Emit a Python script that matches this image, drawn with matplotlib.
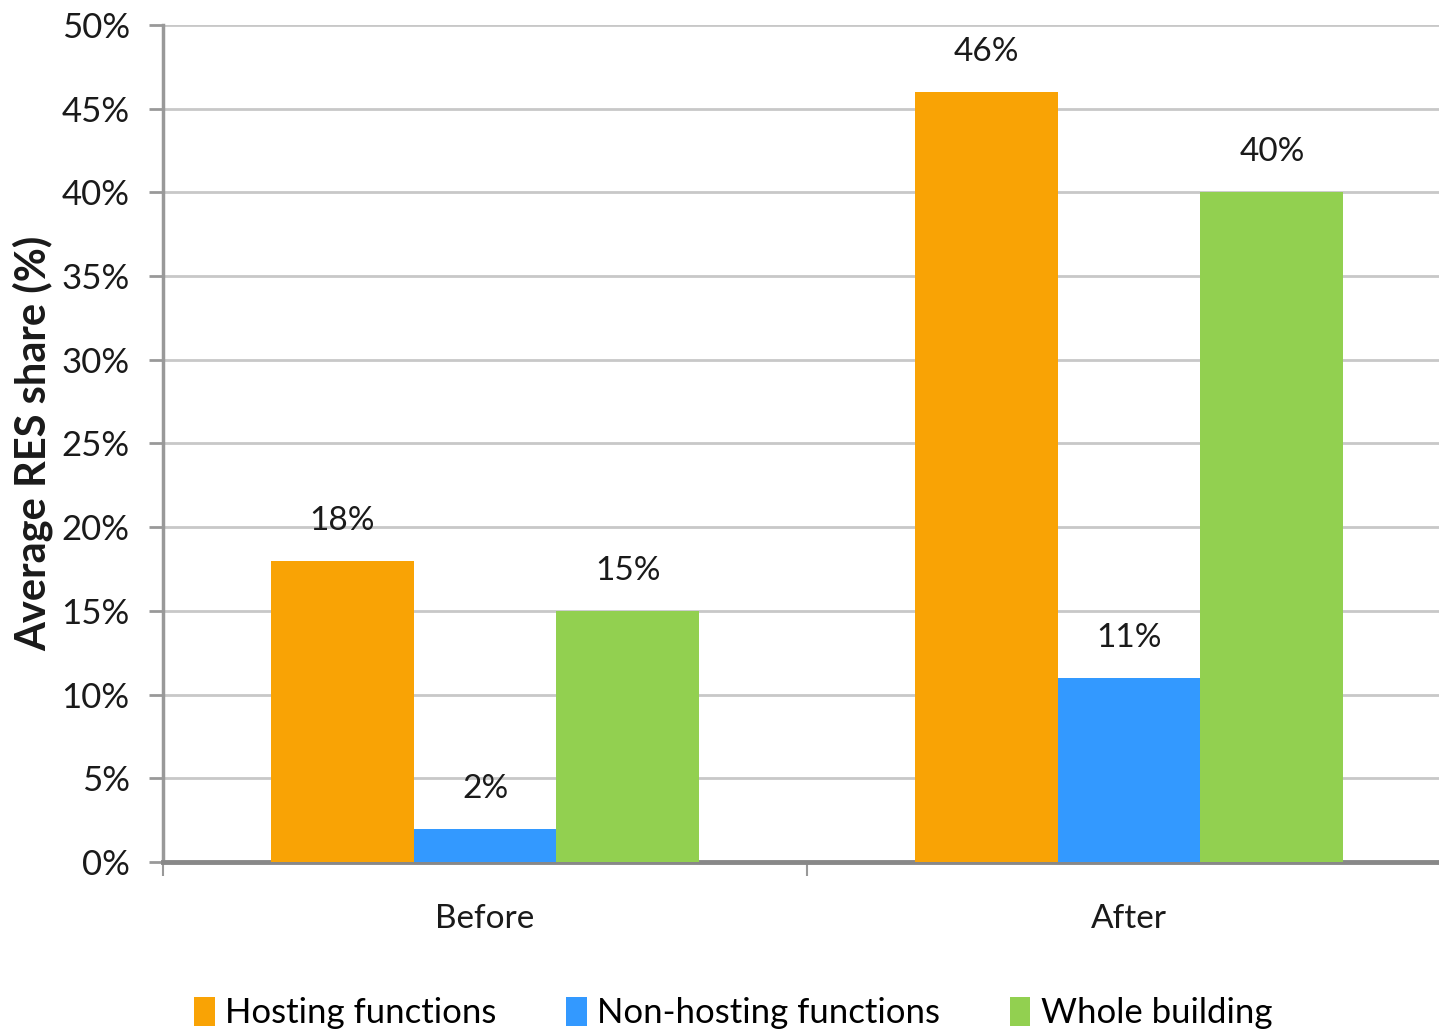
import matplotlib.pyplot as plt
import numpy as np

plt.rcParams['font.family'] = ['Lato', 'DejaVu Sans']

# data
categories = ['Before', 'After']
series_names = ['Hosting functions', 'Non-hosting functions', 'Whole building']
hosting = [18, 46]
non_hosting = [2, 11]
whole_building = [15, 40]
colors = ['#F9A305', '#3399FF', '#92D050']
yticks = [0, 5, 10, 15, 20, 25, 30, 35, 40, 45, 50]

fig = plt.figure(figsize=(14.39, 10.33), dpi=100)
# plot area runs past the right edge of the picture, as in the source
ax = fig.add_axes([163 / 1439, 1 - 862 / 1033, (1451 - 163) / 1439, (862 - 25) / 1033])

x = np.arange(len(categories))
width = 0.222
all_values = [hosting, non_hosting, whole_building]
for i, (vals, name, col) in enumerate(zip(all_values, series_names, colors)):
    pos = x + (i - 1) * width
    bars = ax.bar(pos, vals, width, color=col, label=name, zorder=3)
    for b, v in zip(bars, vals):
        ax.annotate(f"{v}%", (b.get_x() + b.get_width() / 2, v),
                    xytext=(0, 18), textcoords='offset points',
                    ha='center', va='bottom', fontsize=24, color='#1a1a1a')

ax.set_xlim(-0.5, 1.5)
ax.set_ylim(0, 50)
ax.set_yticks(yticks)
ax.set_yticklabels([f"{t}%" for t in yticks], fontsize=25, color='#1a1a1a')
ax.yaxis.grid(True, color='#c8c8c8', linewidth=2, zorder=0)
ax.set_axisbelow(True)

# category ticks sit on the boundaries, labels in the middle
ax.set_xticks([-0.5, 0.5])
ax.set_xticklabels(['', ''])
ax.set_xticks(x, minor=True)
ax.set_xticklabels(categories, minor=True, fontsize=24, color='#1a1a1a')
ax.tick_params(axis='x', which='major', length=10, width=1.5, color='#999999')
ax.tick_params(axis='x', which='minor', length=0, pad=30)
ax.tick_params(axis='y', length=10, width=2, color='#999999', pad=14)

for s in ['top', 'right']:
    ax.spines[s].set_visible(False)
ax.spines['left'].set_color('#999999')
ax.spines['left'].set_linewidth(2.5)
ax.spines['bottom'].set_color('#888888')
ax.spines['bottom'].set_linewidth(3.5)

ax.set_ylabel('Average RES share (%)', fontsize=30, fontweight='bold', color='#1a1a1a', labelpad=6)

fig.legend(loc='center', bbox_to_anchor=(733 / 1439, 1 - 1013 / 1033), ncol=3,
           frameon=False, fontsize=25, handlelength=0.6, handleheight=0.9,
           handletextpad=0.3, columnspacing=2.0)

fig.savefig('out.png', dpi=100)
